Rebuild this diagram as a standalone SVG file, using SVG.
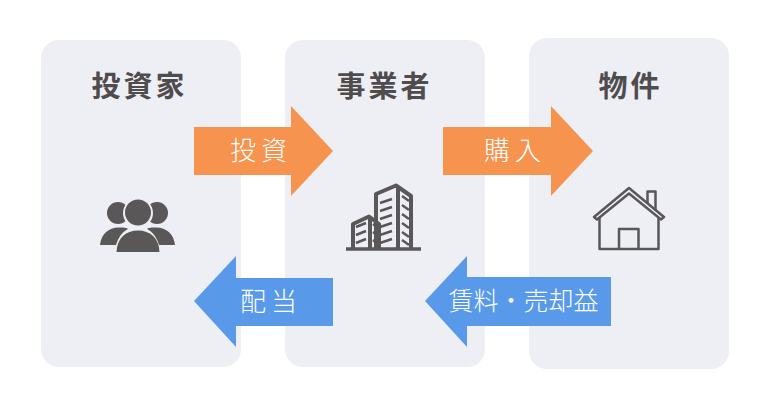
<svg xmlns="http://www.w3.org/2000/svg" width="770" height="408" viewBox="0 0 770 408">
<style>
.card{fill:#eeeff5}
.title{font-family:"Noto Sans CJK JP","Noto Sans",sans-serif;font-size:29px;font-weight:700;fill:#4f4c4d;text-anchor:middle;letter-spacing:3px}
.lab{font-family:"Noto Sans CJK JP","Noto Sans",sans-serif;font-size:25px;font-weight:300;fill:#fff;text-anchor:middle}
.big{font-size:26px;letter-spacing:5px}
.o{fill:#f6934f}.b{fill:#5899ea}
.ic{fill:#595757}
.ln{fill:none;stroke:#595757;stroke-linejoin:round}
</style>
<rect width="770" height="408" fill="#fff"/>
<g id="investor">
<rect class="card" x="41" y="40" width="200" height="327" rx="18"/>
<text class="title" x="139.500" y="97">投資家</text>
<g>
<circle class="ic" cx="118" cy="213" r="11"/><circle class="ic" cx="157" cy="213" r="11"/>
<path class="ic" d="M100 245C101 234 109 227 120 227.500C125 227.500 127 228 128 229C122 232 118 238 116 245Z"/>
<path class="ic" d="M175 245C174 234 166 227 155 227.500C150 227.500 148 228 147 229C153 232 157 238 159 245Z"/>
<circle cx="138" cy="213" r="15" fill="#eeeff5"/><circle class="ic" cx="138" cy="212.500" r="13"/>
<path class="ic" d="M116.500 252C117 238 126 230.500 138 230.500C150 230.500 159 238 159.500 252Z"/>
</g>
</g>
<g id="operator">
<rect class="card" x="285" y="40" width="200" height="327" rx="18"/>
<text class="title" x="384.500" y="97">事業者</text>
<g>
<path d="M346 249H421" class="ln" stroke-width="3.500"/>
<path class="ln" stroke-width="4" d="M376 248V194L396 185.500L411 196V248M398 187V248M353 248V224L369 216.500L379 224V248M370 218V248"/>
<path class="ln" stroke-width="2.500" d="M380 203L392 199M380 211L392 207M380 219L392 215M380 227L392 223M380 235L392 231M380 243L392 239M402 196L409 201M402 205L409 210M402 214L409 219M402 223L409 228M402 232L409 237M402 240L409 245M356 227L366 223M356 235L366 231M356 243L366 239M373 224L378 228M373 232L378 236M373 240L378 244"/>
</g>
</g>
<g id="property">
<rect class="card" x="529" y="38" width="200" height="331" rx="18"/>
<text class="title" x="630.500" y="97">物件</text>
<g>
<path class="ln" stroke-width="2.500" d="M594 217L629 188L664 217L661 219.500L629 193.500L597 219.500Z"/>
<path class="ln" stroke-width="2.500" d="M599.500 218V249H658.500V218M619 249V229H638.500V249M647.500 203V191.500H655.500V210.500"/>
</g>
</g>
<g id="connectors">
<g id="arrow-invest"><path class="o" d="M194 127H291V106L333 151L291 196V175H194Z"/><text class="lab big" x="261" y="160">投資</text></g>
<g id="arrow-purchase"><path class="o" d="M443 127H551V106L593 151L551 196V175H443Z"/><text class="lab big" x="515" y="160">購入</text></g>
<g id="arrow-dividend"><path class="b" d="M333 278H236V256L194 301L236 347V326H333Z"/><text class="lab big" x="271" y="311">配当</text></g>
<g id="arrow-rent"><path class="b" d="M611 277H467V256L425 301L467 347V326H611Z"/><text class="lab" x="523.500" y="310">賃料・売却益</text></g>
</g>
</svg>
